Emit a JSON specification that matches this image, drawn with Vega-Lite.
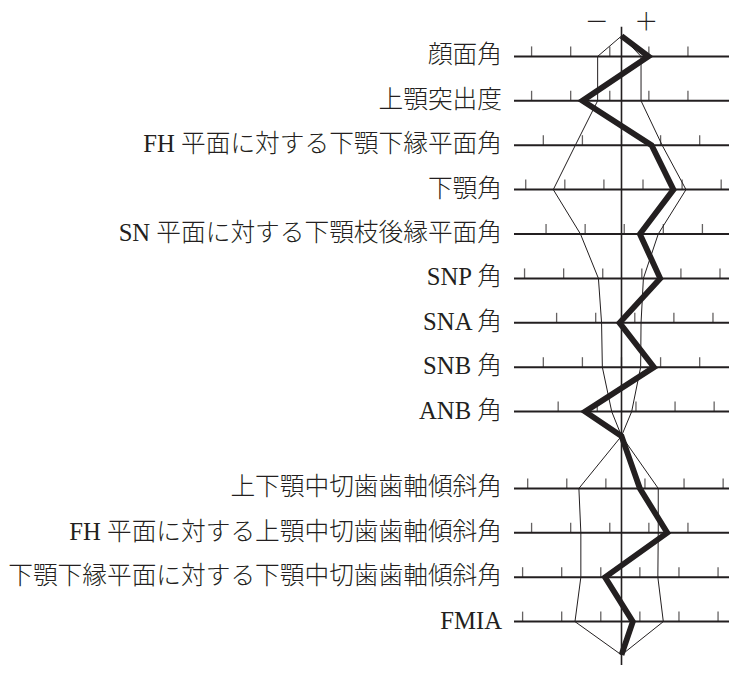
{
  "$schema": "https://vega.github.io/schema/vega-lite/v6.json",
  "width": 215,
  "height": 666,
  "autosize": {"type": "none"},
  "padding": {"left": 514, "top": 12, "right": 12, "bottom": 2},
  "background": "white",
  "config": {"view": {"stroke": null}, "scale": {"continuousPadding": 0}},
  "datasets": {
    "rows": [
      {"label": "顔面角", "pos": 1},
      {"label": "上顎突出度", "pos": 2},
      {"label": "FH 平面に対する下顎下縁平面角", "pos": 3},
      {"label": "下顎角", "pos": 4},
      {"label": "SN 平面に対する下顎枝後縁平面角", "pos": 5},
      {"label": "SNP 角", "pos": 6},
      {"label": "SNA 角", "pos": 7},
      {"label": "SNB 角", "pos": 8},
      {"label": "ANB 角", "pos": 9},
      {"label": "上下顎中切歯歯軸傾斜角", "pos": 10.73},
      {"label": "FH 平面に対する上顎中切歯歯軸傾斜角", "pos": 11.73},
      {"label": "下顎下縁平面に対する下顎中切歯歯軸傾斜角", "pos": 12.73},
      {"label": "FMIA", "pos": 13.73}
    ],
    "ticks": [
      {"pos": 1, "v": -2.3}, {"pos": 1, "v": -1.3}, {"pos": 1, "v": -0.3}, {"pos": 1, "v": 0.7}, {"pos": 1, "v": 1.7},
      {"pos": 2, "v": -2.3}, {"pos": 2, "v": -1.3}, {"pos": 2, "v": -0.3}, {"pos": 2, "v": 0.7}, {"pos": 2, "v": 1.7},
      {"pos": 3, "v": -2}, {"pos": 3, "v": -1}, {"pos": 3, "v": 0}, {"pos": 3, "v": 1}, {"pos": 3, "v": 2},
      {"pos": 4, "v": -2.45}, {"pos": 4, "v": -1.45}, {"pos": 4, "v": -0.45}, {"pos": 4, "v": 0.55}, {"pos": 4, "v": 1.55}, {"pos": 4, "v": 2.55},
      {"pos": 5, "v": -1.93}, {"pos": 5, "v": -0.93}, {"pos": 5, "v": 0.07}, {"pos": 5, "v": 1.07}, {"pos": 5, "v": 2.07},
      {"pos": 6, "v": -2.48}, {"pos": 6, "v": -1.48}, {"pos": 6, "v": -0.48}, {"pos": 6, "v": 0.52}, {"pos": 6, "v": 1.52}, {"pos": 6, "v": 2.52},
      {"pos": 7, "v": -1.66}, {"pos": 7, "v": -0.66}, {"pos": 7, "v": 0.34}, {"pos": 7, "v": 1.34}, {"pos": 7, "v": 2.34},
      {"pos": 8, "v": -2}, {"pos": 8, "v": -1}, {"pos": 8, "v": 0}, {"pos": 8, "v": 1}, {"pos": 8, "v": 2},
      {"pos": 9, "v": -1.62}, {"pos": 9, "v": -0.62}, {"pos": 9, "v": 0.37}, {"pos": 9, "v": 1.37}, {"pos": 9, "v": 2.37},
      {"pos": 10.73, "v": -2.4}, {"pos": 10.73, "v": -1.4}, {"pos": 10.73, "v": -0.4}, {"pos": 10.73, "v": 0.6}, {"pos": 10.73, "v": 1.6}, {"pos": 10.73, "v": 2.6},
      {"pos": 11.73, "v": -2.3}, {"pos": 11.73, "v": -1.3}, {"pos": 11.73, "v": -0.3}, {"pos": 11.73, "v": 0.7}, {"pos": 11.73, "v": 1.7},
      {"pos": 12.73, "v": -2.53}, {"pos": 12.73, "v": -1.53}, {"pos": 12.73, "v": -0.53}, {"pos": 12.73, "v": 0.47}, {"pos": 12.73, "v": 1.47}, {"pos": 12.73, "v": 2.47},
      {"pos": 13.73, "v": -2.53}, {"pos": 13.73, "v": -1.53}, {"pos": 13.73, "v": -0.53}, {"pos": 13.73, "v": 0.47}, {"pos": 13.73, "v": 1.47}, {"pos": 13.73, "v": 2.47}
    ],
    "profile": [
      {"series": "patient", "order": 0, "pos": 0.54, "v": 0},
      {"series": "patient", "order": 1, "pos": 1, "v": 0.69},
      {"series": "patient", "order": 2, "pos": 2, "v": -1.0},
      {"series": "patient", "order": 3, "pos": 3, "v": 0.77},
      {"series": "patient", "order": 4, "pos": 4, "v": 1.33},
      {"series": "patient", "order": 5, "pos": 5, "v": 0.47},
      {"series": "patient", "order": 6, "pos": 6, "v": 0.99},
      {"series": "patient", "order": 7, "pos": 7, "v": -0.05},
      {"series": "patient", "order": 8, "pos": 8, "v": 0.83},
      {"series": "patient", "order": 9, "pos": 9, "v": -0.93},
      {"series": "patient", "order": 10, "pos": 9.55, "v": 0},
      {"series": "patient", "order": 11, "pos": 10.73, "v": 0.47},
      {"series": "patient", "order": 12, "pos": 11.73, "v": 1.17},
      {"series": "patient", "order": 13, "pos": 12.73, "v": -0.42},
      {"series": "patient", "order": 14, "pos": 13.73, "v": 0.29},
      {"series": "patient", "order": 15, "pos": 14.48, "v": 0},
      {"series": "plus", "order": 0, "pos": 0.54, "v": 0},
      {"series": "plus", "order": 1, "pos": 1, "v": 0.5},
      {"series": "plus", "order": 2, "pos": 2, "v": 0.5},
      {"series": "plus", "order": 3, "pos": 3, "v": 1.04},
      {"series": "plus", "order": 4, "pos": 4, "v": 1.65},
      {"series": "plus", "order": 5, "pos": 5, "v": 0.94},
      {"series": "plus", "order": 6, "pos": 6, "v": 0.56},
      {"series": "plus", "order": 7, "pos": 7, "v": 0.5},
      {"series": "plus", "order": 8, "pos": 8, "v": 0.49},
      {"series": "plus", "order": 9, "pos": 9, "v": 0.26},
      {"series": "plus", "order": 10, "pos": 9.55, "v": 0},
      {"series": "plus", "order": 11, "pos": 10.73, "v": 0.94},
      {"series": "plus", "order": 12, "pos": 11.73, "v": 0.94},
      {"series": "plus", "order": 13, "pos": 12.73, "v": 0.93},
      {"series": "plus", "order": 14, "pos": 13.73, "v": 1.07},
      {"series": "plus", "order": 15, "pos": 14.48, "v": 0},
      {"series": "minus", "order": 0, "pos": 0.54, "v": 0},
      {"series": "minus", "order": 1, "pos": 1, "v": -0.61},
      {"series": "minus", "order": 2, "pos": 2, "v": -0.61},
      {"series": "minus", "order": 3, "pos": 3, "v": -1.18},
      {"series": "minus", "order": 4, "pos": 4, "v": -1.745},
      {"series": "minus", "order": 5, "pos": 5, "v": -1.05},
      {"series": "minus", "order": 6, "pos": 6, "v": -0.59},
      {"series": "minus", "order": 7, "pos": 7, "v": -0.51},
      {"series": "minus", "order": 8, "pos": 8, "v": -0.49},
      {"series": "minus", "order": 9, "pos": 9, "v": -0.25},
      {"series": "minus", "order": 10, "pos": 9.55, "v": 0},
      {"series": "minus", "order": 11, "pos": 10.73, "v": -1.09},
      {"series": "minus", "order": 12, "pos": 11.73, "v": -1.04},
      {"series": "minus", "order": 13, "pos": 12.73, "v": -1.04},
      {"series": "minus", "order": 14, "pos": 13.73, "v": -1.19},
      {"series": "minus", "order": 15, "pos": 14.48, "v": 0}
    ]
  },
  "layer": [
    {
      "data": {"name": "rows"},
      "mark": {"type": "rule", "color": "#231f20", "strokeWidth": 2},
      "encoding": {
        "x": {"datum": -2.75, "type": "quantitative", "scale": {"domain": [-2.75, 2.75], "padding": 0, "nice": false, "zero": false}, "axis": null},
        "x2": {"datum": 2.75},
        "y": {"field": "pos", "type": "quantitative", "scale": {"domain": [0, 15], "reverse": true, "padding": 0, "nice": false, "zero": false}, "axis": null}
      }
    },
    {
      "data": {"name": "ticks"},
      "mark": {"type": "tick", "orient": "vertical", "color": "#231f20", "size": 10, "thickness": 1.3, "yOffset": -5},
      "encoding": {
        "x": {"field": "v", "type": "quantitative", "axis": null},
        "y": {"field": "pos", "type": "quantitative", "axis": null}
      }
    },
    {
      "data": {"values": [{"name": "center"}]},
      "mark": {"type": "rule", "color": "#231f20", "strokeWidth": 1.6},
      "encoding": {
        "x": {"datum": 0, "type": "quantitative"},
        "y": {"datum": 0.33, "type": "quantitative"},
        "y2": {"datum": 14.71}
      }
    },
    {
      "data": {"name": "profile"},
      "transform": [{"filter": "datum.series !== 'patient'"}],
      "mark": {"type": "line", "color": "#231f20", "strokeWidth": 1, "strokeJoin": "miter"},
      "encoding": {
        "x": {"field": "v", "type": "quantitative"},
        "y": {"field": "pos", "type": "quantitative"},
        "detail": {"field": "series"},
        "order": {"field": "order", "type": "quantitative"}
      }
    },
    {
      "data": {"name": "profile"},
      "transform": [{"filter": "datum.series === 'patient'"}],
      "mark": {"type": "line", "color": "#231f20", "strokeWidth": 5.8, "strokeJoin": "miter", "strokeMiterLimit": 4},
      "encoding": {
        "x": {"field": "v", "type": "quantitative"},
        "y": {"field": "pos", "type": "quantitative"},
        "order": {"field": "order", "type": "quantitative"}
      }
    },
    {
      "data": {"name": "rows"},
      "mark": {"type": "text", "align": "right", "baseline": "middle", "dx": -12, "fontSize": 24.7, "fontWeight": 300, "font": "Liberation Serif, Noto Sans CJK JP", "color": "#231f20"},
      "encoding": {
        "x": {"datum": -2.75, "type": "quantitative"},
        "y": {"field": "pos", "type": "quantitative"},
        "text": {"field": "label"}
      }
    },
    {
      "data": {"values": [{"name": "minus"}]},
      "mark": {"type": "text", "text": "－", "align": "center", "baseline": "middle", "fontSize": 24, "fontWeight": 300, "font": "Noto Sans CJK JP", "color": "#231f20"},
      "encoding": {
        "x": {"datum": -0.63, "type": "quantitative"},
        "y": {"datum": 0.25, "type": "quantitative"}
      }
    },
    {
      "data": {"values": [{"name": "plus"}]},
      "mark": {"type": "text", "text": "＋", "align": "center", "baseline": "middle", "fontSize": 24, "fontWeight": 300, "font": "Noto Sans CJK JP", "color": "#231f20"},
      "encoding": {
        "x": {"datum": 0.63, "type": "quantitative"},
        "y": {"datum": 0.25, "type": "quantitative"}
      }
    }
  ]
}
